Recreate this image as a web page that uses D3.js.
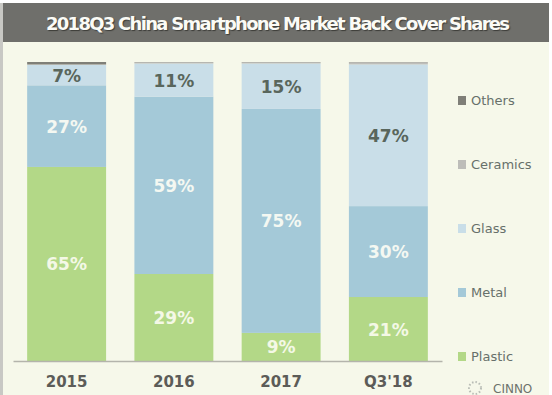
<!DOCTYPE html>
<html lang="en">
<head>
    <meta charset="UTF-8">
    <title>2018Q3 China Smartphone Market Back Cover Shares</title>
    <script src="https://d3js.org/d3.v7.min.js"></script>
    <style>
        html, body { margin: 0; padding: 0; background: #fff; }
        svg { display: block; }
        text { font-family: "DejaVu Sans", sans-serif; }
    </style>
</head>
<body>
    <svg width="552" height="395"></svg>

    <script>
        // Chart data (the labels round these)
        const title = "2018Q3 China Smartphone Market Back Cover Shares";
        const periods = ["2015", "2016", "2017", "Q3'18"];
        const materials = ["Plastic", "Metal", "Glass", "Ceramics", "Others"];
        const plastic = [64.9, 29.1, 9.4, 21.4];
        const metal = [27.3, 59.3, 74.9, 30.4];
        const glass = [6.8, 11.1, 15.2, 47.4];
        const ceramics = [0.2, 0.4, 0.4, 0.7];
        const others = [0.8, 0.1, 0.1, 0.1];
        const colors = ["#b3d887", "#a4c9d8", "#c9dee8", "#bdbdb9", "#7f7f78"];
        const labelColors = ["#f4f8e6", "#f4f8f2", "#59665c"];

        const series = [plastic, metal, glass, ceramics, others];
        const rows = periods.map((p, i) => {
            const row = { period: p };
            materials.forEach((m, j) => { row[m] = series[j][i]; });
            return row;
        });

        const svg = d3.select("svg");

        // Background and title bar
        svg.append("rect").attr("width", 552).attr("height", 395).attr("fill", "#f6f8ea");
        svg.append("rect").attr("width", 3).attr("height", 395).attr("fill", "#c8c8c4");
        svg.append("rect").attr("x", 549).attr("width", 3).attr("height", 395).attr("fill", "#fff");
        svg.append("rect").attr("width", 552).attr("height", 3).attr("fill", "#fff");
        svg.append("rect").attr("x", 3).attr("y", 3).attr("width", 546).attr("height", 39).attr("fill", "#6f6f6b");

        svg.append("text")
            .attr("x", 278).attr("y", 30)
            .attr("text-anchor", "middle")
            .attr("font-size", 18).attr("font-weight", "bold")
            .attr("textLength", 464)
            .attr("fill", "#fbfbf6")
            .style("text-shadow", "1px 1px 1px #3c3c38")
            .text(title);

        // Scales
        const xScale = d3.scaleBand()
            .domain(periods)
            .range([13, 442])
            .paddingInner(0.264)
            .paddingOuter(0.132);

        const yScale = d3.scaleLinear()
            .domain([0, 100])
            .range([361, 62]);

        const stacked = d3.stack().keys(materials)(rows);

        // Bars
        const layers = svg.selectAll("g.layer")
            .data(stacked)
            .join("g")
            .attr("class", "layer")
            .attr("fill", (d, i) => colors[i]);

        layers.selectAll("rect")
            .data(d => d)
            .join("rect")
            .attr("x", d => xScale(d.data.period))
            .attr("y", d => yScale(d[1]))
            .attr("width", xScale.bandwidth())
            .attr("height", d => yScale(d[0]) - yScale(d[1]));

        // Percent labels, only the three big materials have them
        layers.filter((d, i) => i < 3)
            .selectAll("text")
            .data((d, i) => d.map(v => ({ v, color: labelColors[i] })))
            .join("text")
            .attr("x", d => xScale(d.v.data.period) + xScale.bandwidth() / 2)
            .attr("y", d => yScale((d.v[0] + d.v[1]) / 2) + 6.5)
            .attr("text-anchor", "middle")
            .attr("font-size", 17).attr("font-weight", "bold")
            .attr("fill", d => d.color)
            .text(d => `${d3.format(".0f")(d.v[1] - d.v[0])}%`);

        // X axis
        const xAxis = svg.append("g")
            .attr("transform", "translate(0,361)")
            .call(d3.axisBottom(xScale).tickSize(0).tickPadding(15));
        xAxis.select(".domain").attr("stroke", "#b4b4ac").attr("stroke-width", 1.5);
        xAxis.selectAll("text")
            .attr("font-size", 15).attr("font-weight", "bold")
            .attr("fill", "#5c5c58")
            .style("font-family", '"DejaVu Sans", sans-serif');

        // Legend
        const legendY = d3.scalePoint()
            .domain(materials)
            .range([356, 100]);

        const legend = svg.selectAll("g.legend")
            .data(materials)
            .join("g")
            .attr("class", "legend")
            .attr("transform", d => `translate(458,${legendY(d)})`);

        legend.append("rect")
            .attr("y", -4).attr("width", 8).attr("height", 9)
            .attr("fill", (d, i) => colors[i]);

        legend.append("text")
            .attr("x", 13).attr("y", 5)
            .attr("font-size", 13)
            .attr("fill", "#67706a")
            .text(d => d);

        // Watermark
        svg.append("circle")
            .attr("cx", 475).attr("cy", 388).attr("r", 6)
            .attr("fill", "none").attr("stroke", "#b9bdb6")
            .attr("stroke-width", 2).attr("stroke-dasharray", "1.5 2");
        svg.append("text")
            .attr("x", 493).attr("y", 393)
            .attr("font-size", 12)
            .attr("fill", "#6d726c")
            .text("CINNO");
    </script>
</body>
</html>
